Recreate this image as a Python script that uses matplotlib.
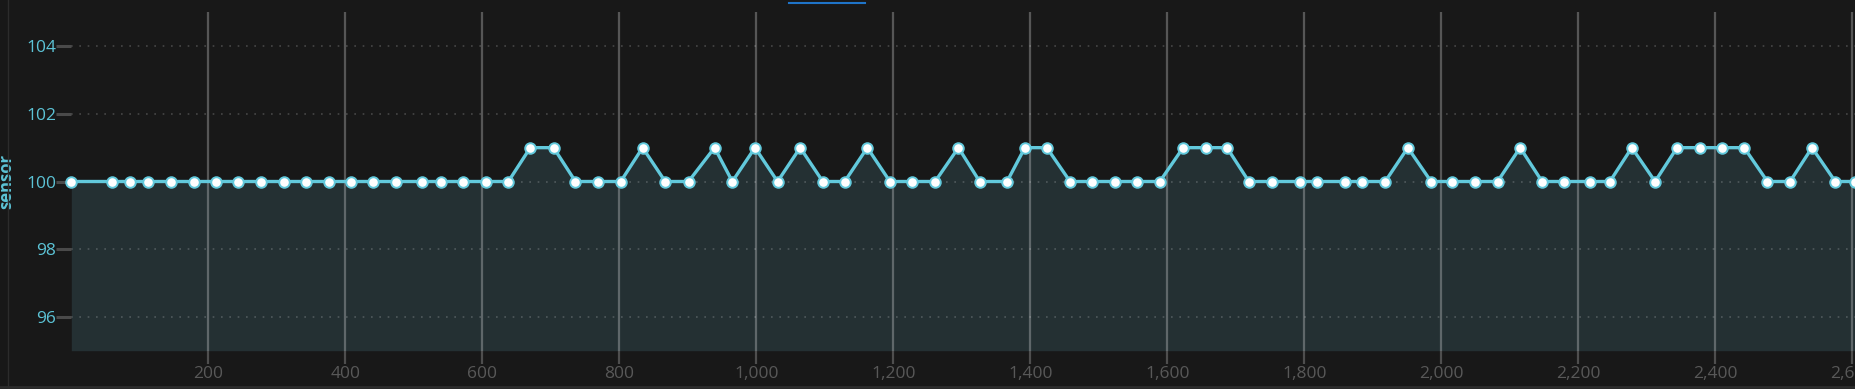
import matplotlib
matplotlib.use("Agg")
import matplotlib.pyplot as plt
from matplotlib.ticker import FuncFormatter
from matplotlib.lines import Line2D

# ---- data ----
x_values = [0, 60, 86, 112, 146, 179, 211, 244, 277, 310, 343, 376, 408, 441, 474,
            512, 539, 572, 605, 638, 670, 704, 736, 769, 802, 834, 867, 901, 939, 965,
            998, 1031, 1064, 1097, 1129, 1162, 1195, 1227, 1261, 1295, 1326, 1366, 1392,
            1424, 1458, 1490, 1524, 1555, 1589, 1623, 1656, 1687, 1719, 1753, 1794, 1819,
            1859, 1884, 1918, 1951, 1985, 2016, 2049, 2082, 2115, 2147, 2179, 2217, 2246,
            2278, 2312, 2344, 2377, 2410, 2442, 2476, 2509, 2541, 2575, 2604]
sensor = [100, 100, 100, 100, 100, 100, 100, 100, 100, 100, 100, 100, 100, 100, 100,
          100, 100, 100, 100, 100, 101, 101, 100, 100, 100, 101, 100, 100, 101, 100,
          101, 100, 101, 100, 100, 101, 100, 100, 100, 101, 100, 100, 101,
          101, 100, 100, 100, 100, 100, 101, 101, 101, 100, 100, 100, 100,
          100, 100, 100, 101, 100, 100, 100, 100, 101, 100, 100, 100, 100,
          101, 100, 101, 101, 101, 101, 100, 100, 101, 100, 100]
x_ticks = [200, 400, 600, 800, 1000, 1200, 1400, 1600, 1800, 2000, 2200, 2400, 2600]
y_ticks = [96, 98, 100, 102, 104]
y_label = "sensor"

# ---- style ----
BG = "#181818"
LINE = "#62c9dc"
FILL = "#243033"
YTXT = "#5cc3d6"
XTXT = "#585858"
FONT = ["Open Sans", "DejaVu Sans"]

W, H = 1856, 389
fig = plt.figure(figsize=(W / 100, H / 100), dpi=100, facecolor=BG)
left, right, top, bottom = 71.3, 1856.5, 12.3, 350.7
ax = fig.add_axes([left / W, 1 - bottom / H, (right - left) / W, (bottom - top) / H])
ax.set_facecolor(BG)

ax.set_xlim(0, 2606)
ax.set_ylim(95, 105)

ax.fill_between(x_values, sensor, 95, color=FILL, lw=0, zorder=1)
ax.plot(x_values, sensor, color=LINE, lw=2.4, zorder=4,
        marker="o", ms=7.6, mfc="white", mec=LINE, mew=1.4, clip_on=False)

for s in ax.spines.values():
    s.set_visible(False)

ax.set_xticks(x_ticks)
ax.set_yticks(y_ticks)
ax.xaxis.set_major_formatter(FuncFormatter(lambda v, p: f"{v:,.0f}"))

ax.grid(axis="x", color="white", alpha=0.27, lw=1.6, zorder=2)
ax.grid(axis="y", color="white", alpha=0.2, lw=1.2, ls=(0, (1, 4)), zorder=2)
ax.set_axisbelow(False)

ax.tick_params(axis="x", length=9, width=1.6, color="#4e4e4e", pad=2,
               labelcolor=XTXT, labelsize=12.5)
ax.tick_params(axis="y", length=11, width=2.2, color="#4a4a4a", pad=0,
               labelcolor=YTXT, labelsize=12.5)
for lab in ax.get_xticklabels() + ax.get_yticklabels():
    lab.set_family(FONT)

ax.set_ylabel(y_label, color=YTXT, fontsize=12, fontweight="bold",
              family=FONT, labelpad=0)
ax.yaxis.set_label_coords(-(left - 15) / (right - left), 0.5)

# frame decorations
fig.add_artist(Line2D([8 / W, 8 / W], [0, 1], color="#2c2c2c", lw=1))
fig.add_artist(Line2D([0, 1], [1.8 / H, 1.8 / H], color="#2c2c2c", lw=2))
fig.add_artist(Line2D([789 / W, 865 / W], [1 - 3.3 / H, 1 - 3.3 / H], color="#1f74c8", lw=1.5))

fig.savefig("out.png", dpi=100, facecolor=BG)
